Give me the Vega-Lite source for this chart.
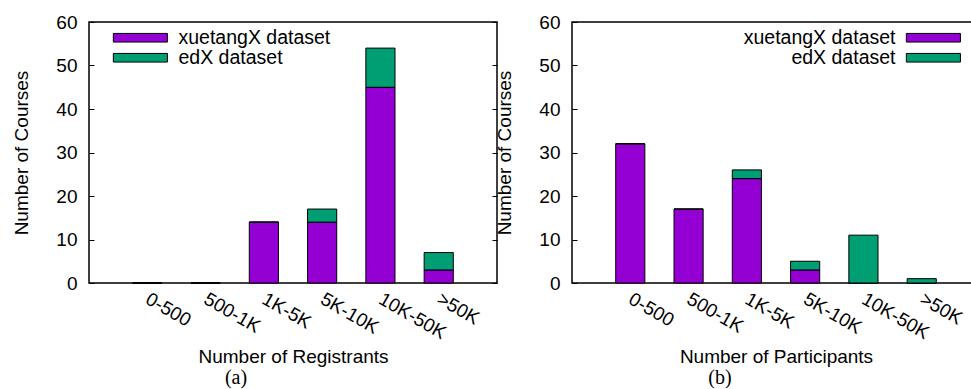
{
  "$schema": "https://vega.github.io/schema/vega-lite/v6.json",
  "padding": {"left": 12, "top": 12, "right": 0, "bottom": 0},
  "spacing": -4,
  "datasets": {
    "reg": [
      {"range": "0-500", "dataset": "xuetangX dataset", "courses": 0},
      {"range": "0-500", "dataset": "edX dataset", "courses": 0},
      {"range": "500-1K", "dataset": "xuetangX dataset", "courses": 0},
      {"range": "500-1K", "dataset": "edX dataset", "courses": 0},
      {"range": "1K-5K", "dataset": "xuetangX dataset", "courses": 14},
      {"range": "1K-5K", "dataset": "edX dataset", "courses": 0},
      {"range": "5K-10K", "dataset": "xuetangX dataset", "courses": 14},
      {"range": "5K-10K", "dataset": "edX dataset", "courses": 3},
      {"range": "10K-50K", "dataset": "xuetangX dataset", "courses": 45},
      {"range": "10K-50K", "dataset": "edX dataset", "courses": 9},
      {"range": ">50K", "dataset": "xuetangX dataset", "courses": 3},
      {"range": ">50K", "dataset": "edX dataset", "courses": 4}
    ],
    "par": [
      {"range": "0-500", "dataset": "xuetangX dataset", "courses": 32},
      {"range": "0-500", "dataset": "edX dataset", "courses": 0},
      {"range": "500-1K", "dataset": "xuetangX dataset", "courses": 17},
      {"range": "500-1K", "dataset": "edX dataset", "courses": 0},
      {"range": "1K-5K", "dataset": "xuetangX dataset", "courses": 24},
      {"range": "1K-5K", "dataset": "edX dataset", "courses": 2},
      {"range": "5K-10K", "dataset": "xuetangX dataset", "courses": 3},
      {"range": "5K-10K", "dataset": "edX dataset", "courses": 2},
      {"range": "10K-50K", "dataset": "xuetangX dataset", "courses": 0},
      {"range": "10K-50K", "dataset": "edX dataset", "courses": 11},
      {"range": ">50K", "dataset": "xuetangX dataset", "courses": 0},
      {"range": ">50K", "dataset": "edX dataset", "courses": 1}
    ]
  },
  "hconcat": [
    {
      "width": 408,
      "height": 261,
      "data": {"name": "reg"},
      "title": {"text": "(a)", "orient": "bottom", "font": "Liberation Serif", "fontSize": 20, "fontWeight": "normal", "color": "black", "dx": -57, "offset": 1},
      "layer": [
        {
          "mark": {"type": "bar", "stroke": "black", "strokeWidth": 1},
          "encoding": {
            "x": {"field": "range", "type": "ordinal", "sort": null,
              "scale": {"paddingInner": 0.5, "paddingOuter": 0.75},
              "axis": {"title": "Number of Registrants"}},
            "y": {"field": "courses", "type": "quantitative", "stack": "zero",
              "scale": {"domain": [0, 60]},
              "axis": {"title": "Number of Courses", "values": [0, 10, 20, 30, 40, 50, 60]}},
            "color": {"field": "dataset", "type": "nominal",
              "scale": {"domain": ["xuetangX dataset", "edX dataset"], "range": ["#9400D3", "#009E73"]},
              "legend": {"title": null, "orient": "none", "legendX": 20, "legendY": 6, "labelOffset": 50}},
            "order": {"field": "dataset", "sort": "descending"}
          }
        },
        {
          "mark": {"type": "tick", "opacity": 0},
          "encoding": {
            "y": {"field": "courses", "type": "quantitative",
              "axis": {"orient": "right", "labels": false, "title": null, "values": [0, 10, 20, 30, 40, 50, 60]}}
          }
        }
      ],
      "resolve": {"axis": {"y": "independent"}}
    },
    {
      "width": 408,
      "height": 261,
      "data": {"name": "par"},
      "title": {"text": "(b)", "orient": "bottom", "font": "Liberation Serif", "fontSize": 20, "fontWeight": "normal", "color": "black", "dx": -56, "offset": 1},
      "mark": {"type": "bar", "stroke": "black", "strokeWidth": 1},
      "encoding": {
        "x": {"field": "range", "type": "ordinal", "sort": null,
          "scale": {"paddingInner": 0.5, "paddingOuter": 0.75},
          "axis": {"title": "Number of Participants"}},
        "y": {"field": "courses", "type": "quantitative", "stack": "zero",
          "scale": {"domain": [0, 60]},
          "axis": {"title": "Number of Courses", "values": [0, 10, 20, 30, 40, 50, 60]}},
        "color": {"field": "dataset", "type": "nominal",
          "scale": {"domain": ["xuetangX dataset", "edX dataset"], "range": ["#9400D3", "#009E73"]},
          "legend": {"title": null, "orient": "none", "legendX": 330, "legendY": 6, "labelAlign": "right", "labelOffset": -26}},
        "order": {"field": "dataset", "sort": "descending"}
      }
    }
  ],
  "resolve": {"scale": {"color": "independent"}},
  "config": {
    "font": "Liberation Sans",
    "view": {"stroke": "black", "strokeWidth": 1.5},
    "axis": {
      "grid": false,
      "domain": false,
      "labelFont": "Liberation Sans",
      "titleFont": "Liberation Sans",
      "labelFontSize": 19,
      "titleFontSize": 19,
      "titleFontWeight": "normal",
      "labelColor": "black",
      "titleColor": "black",
      "tickColor": "black"
    },
    "axisY": {"tickSize": -5, "labelPadding": 17, "titlePadding": 24},
    "axisX": {"ticks": false, "labelAngle": 30, "labelAlign": "left", "labelBaseline": "middle", "labelPadding": 14, "titlePadding": 5},
    "legend": {
      "padding": 0,
      "labelFont": "Liberation Sans",
      "labelFontSize": 19.5,
      "labelColor": "black",
      "symbolType": "M-1,-0.8L9,-0.8L9,0.8L-1,0.8Z",
      "symbolSize": 117,
      "symbolStrokeColor": "black",
      "symbolStrokeWidth": 1,
      "symbolOpacity": 1,
      "rowPadding": -1
    }
  }
}
